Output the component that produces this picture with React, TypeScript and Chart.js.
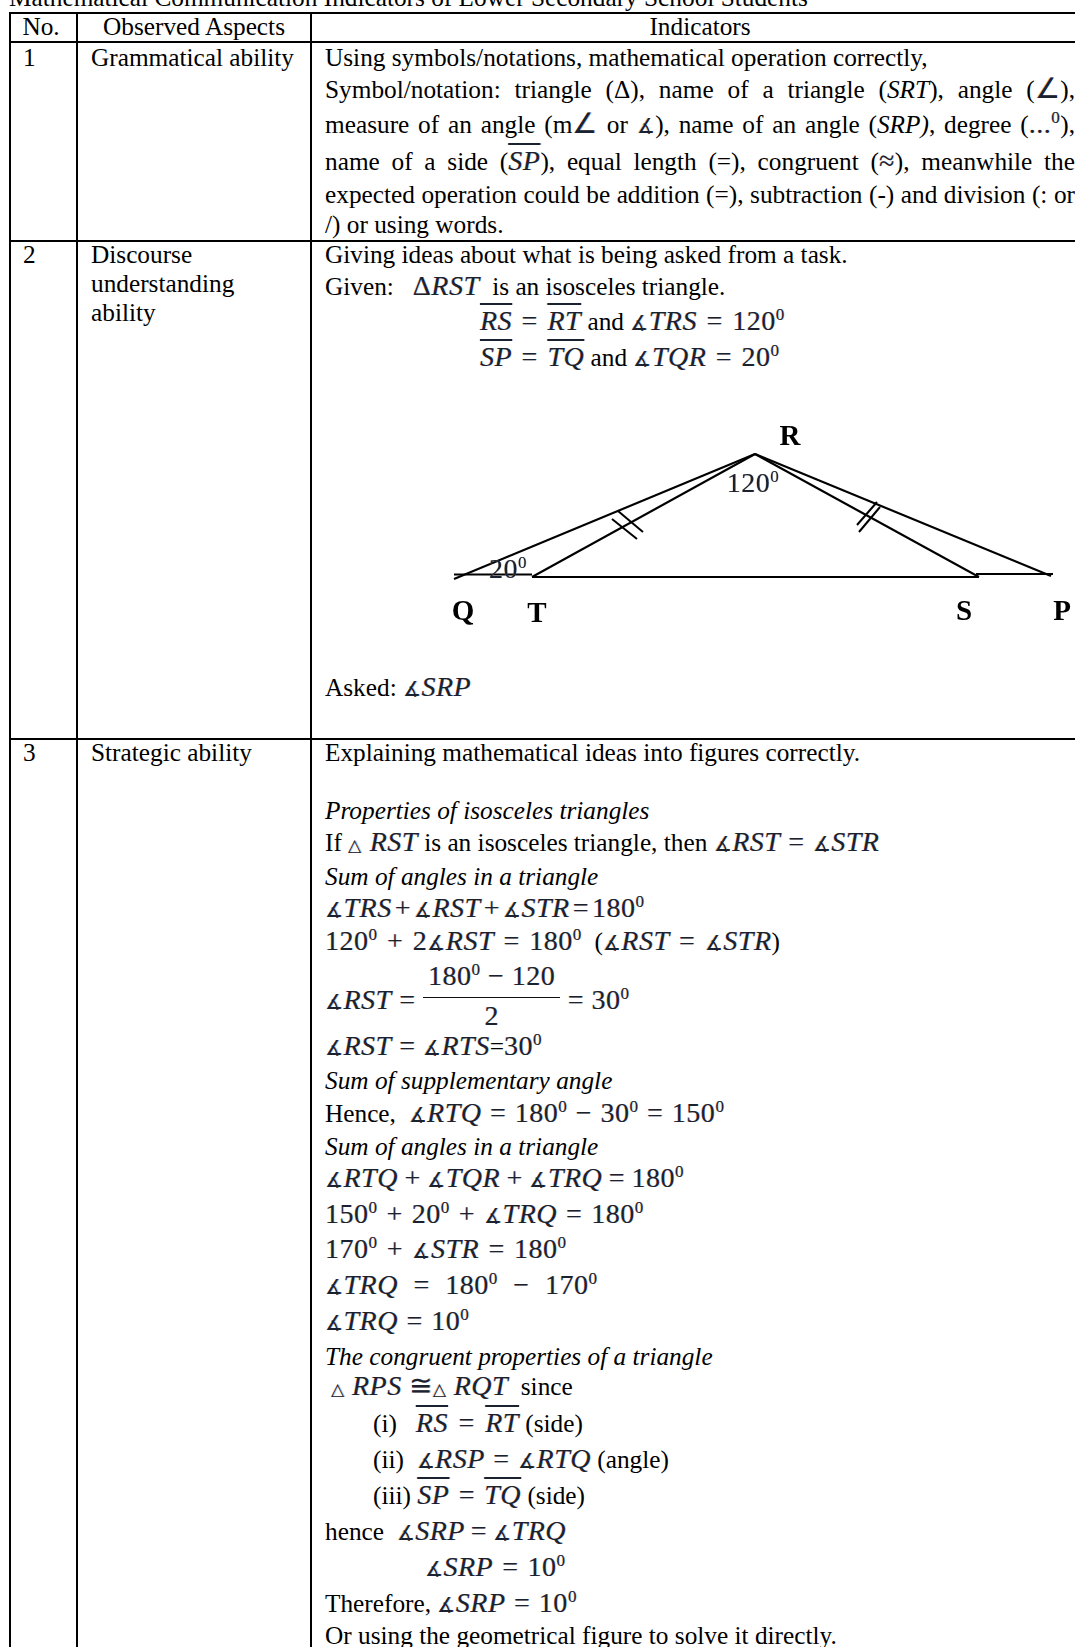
import React, { useEffect, useRef } from "react";
import { Chart, registerables } from "chart.js";

Chart.register(...registerables);

const titleText = "Mathematical Communication Indicators of Lower Secondary School Students";
const headers = ["No.", "Observed Aspects", "Indicators"];
const rowNumbers = ["1", "2", "3"];
const aspectRow1 = ["Grammatical ability"];
const aspectRow2 = ["Discourse", "understanding", "ability"];
const aspectRow3 = ["Strategic ability"];

const row1Lines = [
  "Using symbols/notations, mathematical operation correctly,",
  "Symbol/notation: triangle (Δ), name of a triangle (*SRT*), angle ({∠}),",
  "measure of an angle (m{∠}  or {∡}), name of an angle (*SRP)*, degree ({...^}),",
  "name of a side ({_SP_}), equal length (=), congruent ({≈}), meanwhile the",
  "expected operation could be addition (=), subtraction (-) and division (: or",
  "/) or using words.",
];
const row2Lines = [
  "Giving ideas about what is being asked from a task.",
  "Given:   {ΔRST}  is an isosceles triangle.",
  "{_RS_ = _RT_} and {∡TRS = 120^}",
  "{_SP_ = _TQ_} and {∡TQR = 20^}",
  "Asked: {∡SRP}",
];
const row3Lines = [
  "Explaining mathematical ideas into figures correctly.",
  "*Properties of isosceles triangles*",
  "If {△ RST} is an isosceles triangle, then {∡RST = ∡STR}",
  "*Sum of angles in a triangle*",
  "{∡TRS + ∡RST + ∡STR = 180^}",
  "{120^ + 2∡RST = 180^}  ({∡RST = ∡STR})",
  "{∡RST = }[180^ − 120|2]{ = 30^}",
  "{∡RST = ∡RTS}={30^}",
  "*Sum of supplementary angle*",
  "Hence,  {∡RTQ = 180^ − 30^ = 150^}",
  "*Sum of angles in a triangle*",
  "{∡RTQ + ∡TQR + ∡TRQ = 180^}",
  "{150^ + 20^ + ∡TRQ = 180^}",
  "{170^ + ∡STR = 180^}",
  "{∡TRQ = 180^ − 170^}",
  "{∡TRQ = 10^}",
  "*The congruent properties of a triangle*",
  "{△ RPS ≅△ RQT}  since",
  "(i)   {_RS_ = _RT_} (side)",
  "(ii)  {∡RSP = ∡RTQ} (angle)",
  "(iii) {_SP_ = _TQ_} (side)",
  "hence  {∡SRP = ∡TRQ}",
  "{∡SRP = 10^}",
  "Therefore, {∡SRP = 10^}",
  "Or using the geometrical figure to solve it directly.",
];

// Geometry of the figure, in the figure's own coordinates.
const lineRQ = [{ x: 755, y: 454 }, { x: 454, y: 579 }];
const lineRT = [{ x: 755, y: 454 }, { x: 532, y: 577 }];
const lineRS = [{ x: 755, y: 454 }, { x: 979, y: 577 }];
const lineRP = [{ x: 755, y: 454 }, { x: 1051, y: 576 }];
const baseQT = [{ x: 454, y: 574.5 }, { x: 532, y: 574.5 }];
const baseTS = [{ x: 532, y: 577 }, { x: 979, y: 577 }];
const baseSP = [{ x: 976, y: 574 }, { x: 1053, y: 574 }];
const tickL1 = [{ x: 618, y: 511 }, { x: 643, y: 532 }];
const tickL2 = [{ x: 612, y: 519 }, { x: 637, y: 539 }];
const tickR1 = [{ x: 877, y: 502 }, { x: 857, y: 525 }];
const tickR2 = [{ x: 880, y: 507 }, { x: 859, y: 532 }];
const figureSegments = [lineRQ, lineRT, lineRS, lineRP, baseQT, baseTS, baseSP, tickL1, tickL2, tickR1, tickR2];
const vertexNames = ["R", "Q", "T", "S", "P"];
const angleNames = ["{120^}", "{20^}"];

const SERIF = '"Liberation Serif", serif';
const FS = 25.3;
const MATH_FS = 28;

const mathStyle: React.CSSProperties = {
  fontSize: MATH_FS,
  letterSpacing: 0.5,
  color: "#1a2230",
  textShadow: "-0.5px 0 rgba(225,140,50,.45), 0.5px 0 rgba(50,120,220,.45)",
};

function mathInner(src: string) {
  const out: React.ReactNode[] = [];
  const re = /_([A-Z]+)_|\^|∡|△|([A-Z]+)|([^_^A-Z∡△]+)/g;
  let m: RegExpExecArray | null;
  let k = 0;
  while ((m = re.exec(src))) {
    if (m[1]) {
      out.push(
        <span key={k++} style={{ fontStyle: "italic", textDecoration: "overline", textDecorationThickness: 1.5, whiteSpace: "nowrap" }}>{m[1]}</span>
      );
    } else if (m[0] === "^") {
      out.push(<sup key={k++} style={{ fontSize: 17, lineHeight: 0, verticalAlign: 10 }}>0</sup>);
    } else if (m[0] === "∡") {
      out.push(<span key={k++} style={{ fontSize: 20 }}>∡</span>);
    } else if (m[0] === "△") {
      out.push(<span key={k++} style={{ fontSize: 17 }}>△</span>);
    } else if (m[2]) {
      out.push(<i key={k++}>{m[2]}</i>);
    } else {
      out.push(<span key={k++}>{m[3]}</span>);
    }
  }
  return out;
}

function renderLine(src: string, gap = 1.5) {
  const out: React.ReactNode[] = [];
  const re = /\{([^}]*)\}|\*([^*]*)\*|\[([^|]*)\|([^\]]*)\]|([^{*[]+)/g;
  let m: RegExpExecArray | null;
  let k = 0;
  while ((m = re.exec(src))) {
    if (m[1] !== undefined) {
      out.push(<span key={k++} style={{ ...mathStyle, wordSpacing: gap }}>{mathInner(m[1])}</span>);
    } else if (m[2] !== undefined) {
      out.push(<i key={k++}>{m[2]}</i>);
    } else if (m[3] !== undefined) {
      out.push(
        <span key={k++} style={{ ...mathStyle, wordSpacing: gap, display: "inline-block", verticalAlign: "middle", textAlign: "center", lineHeight: "30px", position: "relative", top: -12 }}>
          <span style={{ display: "block", borderBottom: "1.5px solid #111", padding: "0 5px 6px" }}>{mathInner(m[3])}</span>
          <span style={{ display: "block", height: 24, lineHeight: "36px" }}>{mathInner(m[4])}</span>
        </span>
      );
    } else {
      out.push(<span key={k++}>{m[5]}</span>);
    }
  }
  return out;
}

const RIGHT = 1075;
const TEXT_X = 325;
const ASPECT_X = 91;

const colX = [9, 76, 310];
const ruleY = [12, 41, 240, 738];

function Line(props: { text: string; x: number; cy: number; justify?: boolean; center?: boolean; gap?: number }) {
  const { text, x, cy, justify, center, gap } = props;
  const style: React.CSSProperties = {
    position: "absolute",
    left: x,
    top: cy - 20,
    height: 40,
    lineHeight: "40px",
    fontFamily: SERIF,
    fontSize: FS,
    color: "#000",
    whiteSpace: justify ? "normal" : "pre",
  };
  if (justify) {
    style.width = RIGHT - x;
    style.textAlign = "justify";
    style.textAlignLast = "justify";
  }
  if (center) style.transform = "translateX(-50%)";
  return <div style={style}>{renderLine(text, gap)}</div>;
}

const row1Centers = [57, 89, 124, 161, 194, 224];
const row2Centers = [254, 286, 321, 357, 687];
const row2Indents = [325, 325, 480, 480, 325];
const row2Gaps = [0, 0, 2, 2, 0];
const row3Centers = [752, 810, 842, 876, 908, 941, 993, 1046, 1080, 1113, 1146, 1178, 1214, 1249, 1285, 1321, 1356, 1386, 1423, 1459, 1495, 1531, 1567, 1603, 1635];
const row3Indents = [325, 325, 325, 325, 325, 325, 325, 325, 325, 325, 325, 325, 325, 325, 325, 325, 325, 331, 373, 373, 373, 325, 425, 325, 325];
const row3Gaps = [0, 0, 0.5, 0, -4.5, 2, 0, 0, 0, 1, 0, -1, 1.5, 1.8, 8, 1, 0, 0, 3, 1, 1.8, -1.5, 1.5, 1, 0];
const aspect2Centers = [254, 283, 312];
const vertexPos = [[790, 435], [463, 610], [537, 612], [964, 610], [1062, 610]];
const anglePos = [[753, 485], [508, 571]];

function Figure() {
  const ref = useRef<HTMLCanvasElement>(null);
  useEffect(() => {
    const chart = new Chart(ref.current as HTMLCanvasElement, {
      type: "scatter",
      data: {
        datasets: figureSegments.map((seg) => ({
          data: seg,
          showLine: true,
          pointRadius: 0,
          borderColor: "#000",
          borderWidth: 2,
          fill: false,
          tension: 0,
        })),
      },
      options: {
        animation: false,
        responsive: false,
        devicePixelRatio: 1,
        layout: { padding: 0 },
        plugins: { legend: { display: false }, tooltip: { enabled: false } },
        scales: {
          x: { type: "linear", min: 430, max: 1075, display: false },
          y: { type: "linear", min: 420, max: 720, reverse: true, display: false },
        },
      },
    });
    return () => chart.destroy();
  }, []);
  return <canvas ref={ref} width={645} height={300} style={{ position: "absolute", left: 430, top: 420 }} />;
}

export default function App() {
  const hRule = (y: number, x0: number, key: string) => (
    <div key={key} style={{ position: "absolute", left: x0, top: y, width: RIGHT - x0, height: 2, background: "#000" }} />
  );
  const vRule = (x: number, key: string) => (
    <div key={key} style={{ position: "absolute", left: x, top: ruleY[0], width: 2, height: 1647 - ruleY[0], background: "#000" }} />
  );
  return (
    <div style={{ position: "absolute", left: 0, top: 0, width: 1075, height: 1647, overflow: "hidden", background: "#fff" }}>
      <Line text={titleText} x={9} cy={-3} />
      {ruleY.map((y, i) => hRule(y, colX[0], "h" + i))}
      {colX.map((x, i) => vRule(x, "v" + i))}
      <Line text={headers[0]} x={41} cy={26} center />
      <Line text={headers[1]} x={194} cy={26} center />
      <Line text={headers[2]} x={700} cy={26} center />
      <Line text={rowNumbers[0]} x={23} cy={57} />
      <Line text={rowNumbers[1]} x={23} cy={254} />
      <Line text={rowNumbers[2]} x={23} cy={752} />
      <Line text={aspectRow1[0]} x={ASPECT_X} cy={57} />
      {aspectRow2.map((t, i) => <Line key={"a" + i} text={t} x={ASPECT_X} cy={aspect2Centers[i]} />)}
      <Line text={aspectRow3[0]} x={ASPECT_X} cy={752} />
      {row1Lines.map((t, i) => <Line key={"r1" + i} text={t} x={TEXT_X} cy={row1Centers[i]} justify={i >= 1 && i <= 4} />)}
      {row2Lines.map((t, i) => <Line key={"r2" + i} text={t} x={row2Indents[i]} cy={row2Centers[i]} gap={row2Gaps[i]} />)}
      <Figure />
      {vertexNames.map((t, i) => (
        <div key={t} style={{ position: "absolute", left: vertexPos[i][0], top: vertexPos[i][1], transform: "translate(-50%,-50%)", fontFamily: SERIF, fontWeight: 700, fontSize: 29 }}>{t}</div>
      ))}
      {angleNames.map((t, i) => (
        <div key={t} style={{ position: "absolute", left: anglePos[i][0], top: anglePos[i][1], transform: "translate(-50%,-50%)", fontFamily: SERIF, lineHeight: "30px" }}>{renderLine(t)}</div>
      ))}
      {row3Lines.map((t, i) => <Line key={"r3" + i} text={t} x={row3Indents[i]} cy={row3Centers[i]} gap={row3Gaps[i]} />)}
    </div>
  );
}
